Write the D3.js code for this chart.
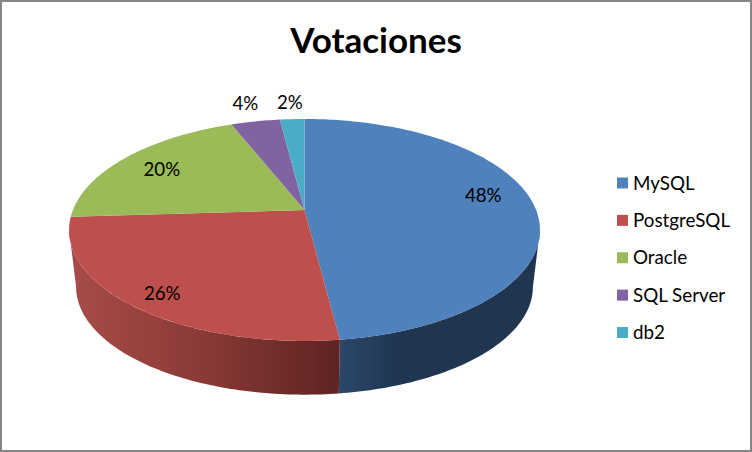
<!DOCTYPE html>
<html>
<head>
<meta charset="utf-8">
<script src="https://cdn.jsdelivr.net/npm/d3@7"></script>
<style>
html, body { margin: 0; padding: 0; background: white; }
svg { display: block; }
text { font-family: Lato, "Open Sans", sans-serif; fill: black; }
</style>
</head>
<body>
<script>
var categories = ["MySQL", "PostgreSQL", "Oracle", "SQL Server", "db2"];
var values = [48, 26, 20, 4, 2];
var colors = ["#4f81bd", "#bd4f4c", "#9bbb59", "#8064a2", "#4bacc6"];
var labels = ["48%", "26%", "20%", "4%", "2%"];

var width = 752, height = 452;

// the 3d disc: circle seen with a bit of perspective
var pieX = 304.5, pieY = 210;
var radiusX = 231.6, radiusY = 107.4, tilt = 0.18;
// bottom of the disc is further away, so a little smaller
var bottomY = 267.6, bottomScale = 0.97;

// where the label goes along its slice, 1 = the rim
var labelRadius = [0.78, 0.85, 0.785, 1.25, 1.22];
var labelShiftY = [-9, 4, 1, 0, 0];

var svg = d3.select("body").append("svg")
    .attr("width", width)
    .attr("height", height);

svg.append("rect")
    .attr("x", 1)
    .attr("y", 1)
    .attr("width", width - 2)
    .attr("height", height - 2)
    .attr("fill", "white")
    .attr("stroke", "#868686")
    .attr("stroke-width", 2);

var color = d3.scaleOrdinal().domain(categories).range(colors);

var pie = d3.pie().sort(null);
var slices = pie(values);

function project(angle, r, cy, scale) {
    var u = Math.sin(angle) * r, v = Math.cos(angle) * r;
    var w = 1 + tilt * v;
    return [pieX + scale * radiusX * u / w, cy - scale * radiusY * v / w];
}

function arcPoints(a0, a1, cy, scale) {
    var n = Math.max(2, Math.ceil(Math.abs(a1 - a0) * 60));
    return d3.range(n + 1).map(function (i) {
        return project(a0 + (a1 - a0) * i / n, 1, cy, scale);
    });
}

var line = d3.line();

// defs for the side shading
var defs = svg.append("defs");

function sideGradient(id, stops) {
    var g = defs.append("linearGradient")
        .attr("id", id)
        .attr("gradientUnits", "userSpaceOnUse")
        .attr("x1", stops[0][0]).attr("y1", 0)
        .attr("x2", stops[stops.length - 1][0]).attr("y2", 0);
    var span = stops[stops.length - 1][0] - stops[0][0];
    stops.forEach(function (s) {
        g.append("stop")
            .attr("offset", (s[0] - stops[0][0]) / span)
            .attr("stop-color", s[1]);
    });
}

sideGradient("sideBlue", [[338, "#2b4869"], [400, "#1f3550"], [540, "#1f3550"]]);
sideGradient("sideRed", [[69, "#a84c49"], [200, "#8a3a37"], [340, "#5e2322"]]);

// only the front of the wall shows, between the two side tangents
var rightEdge = Math.acos(-tilt);
var leftEdge = 2 * Math.PI - rightEdge;

var walls = [
    { a0: rightEdge, a1: slices[0].endAngle, fill: "url(#sideBlue)" },
    { a0: slices[1].startAngle, a1: leftEdge, fill: "url(#sideRed)" }
];

svg.selectAll("path.wall")
    .data(walls)
    .enter().append("path")
    .attr("class", "wall")
    .attr("fill", function (d) { return d.fill; })
    .attr("d", function (d) {
        var top = arcPoints(d.a0, d.a1, pieY, 1);
        var bottom = arcPoints(d.a1, d.a0, bottomY, bottomScale);
        return line(top.concat(bottom)) + "Z";
    });

// top face
svg.selectAll("path.slice")
    .data(slices)
    .enter().append("path")
    .attr("class", "slice")
    .attr("fill", function (d, i) { return color(categories[i]); })
    .attr("d", function (d) {
        var pts = [[pieX, pieY]].concat(arcPoints(d.startAngle, d.endAngle, pieY, 1));
        return line(pts) + "Z";
    });

// data labels
svg.selectAll("text.label")
    .data(slices)
    .enter().append("text")
    .attr("class", "label")
    .attr("text-anchor", "middle")
    .attr("font-size", 18.7)
    .attr("dy", "0.35em")
    .attr("x", function (d, i) {
        return project((d.startAngle + d.endAngle) / 2, labelRadius[i], pieY, 1)[0];
    })
    .attr("y", function (d, i) {
        return project((d.startAngle + d.endAngle) / 2, labelRadius[i], pieY, 1)[1] + labelShiftY[i];
    })
    .text(function (d, i) { return labels[i]; });

svg.append("text")
    .attr("x", 376)
    .attr("y", 53)
    .attr("text-anchor", "middle")
    .attr("font-size", 35)
    .attr("font-weight", "bold")
    .text("Votaciones");

// legend
var legendY = d3.scalePoint().domain(categories).range([183, 332.5]);

var legend = svg.selectAll("g.legend")
    .data(categories)
    .enter().append("g")
    .attr("class", "legend")
    .attr("transform", function (d) { return "translate(617," + legendY(d) + ")"; });

legend.append("rect")
    .attr("x", 0)
    .attr("y", -5.5)
    .attr("width", 11)
    .attr("height", 11)
    .attr("fill", function (d) { return color(d); });

legend.append("text")
    .attr("x", 16)
    .attr("dy", "0.35em")
    .attr("font-size", 18.8)
    .text(function (d) { return d; });
</script>
</body>
</html>
